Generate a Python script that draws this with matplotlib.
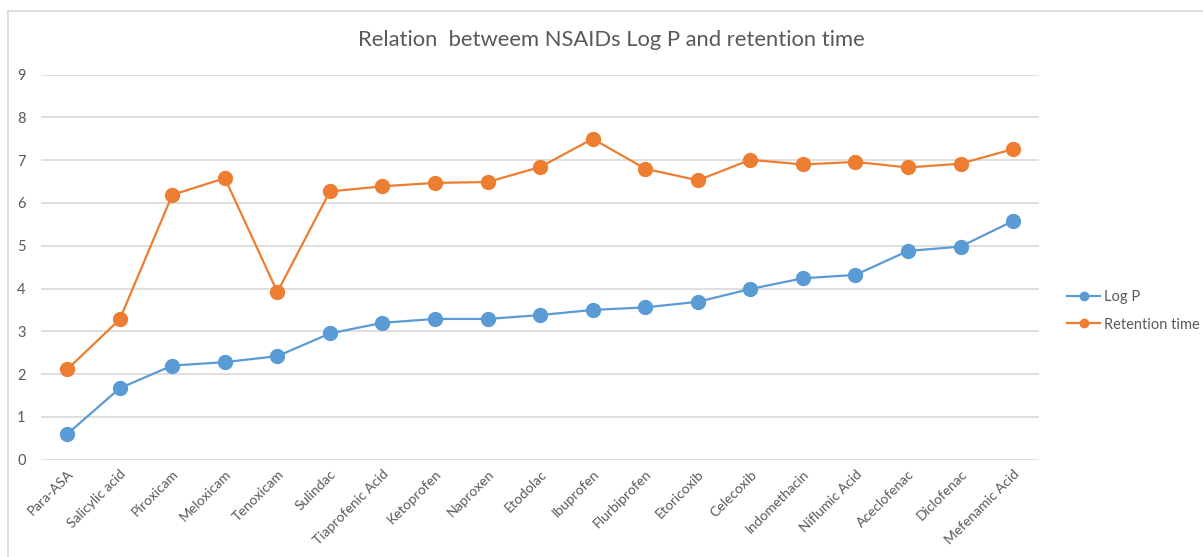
import matplotlib
matplotlib.use('Agg')
import matplotlib.pyplot as plt
from matplotlib.lines import Line2D

# datos
drugs = ['Para-ASA', 'Salicylic acid', 'Piroxicam', 'Meloxicam', 'Tenoxicam',
         'Sulindac', 'Tiaprofenic Acid', 'Ketoprofen', 'Naproxen', 'Etodolac',
         'Ibuprofen', 'Flurbiprofen', 'Etoricoxib', 'Celecoxib', 'Indomethacin',
         'Niflumic Acid', 'Aceclofenac', 'Diclofenac', 'Mefenamic Acid']
log_p = [0.60, 1.67, 2.20, 2.28, 2.42, 2.95, 3.20, 3.29, 3.29, 3.38,
         3.50, 3.56, 3.69, 3.99, 4.24, 4.32, 4.88, 4.98, 5.58]
retention = [2.11, 3.28, 6.19, 6.58, 3.92, 6.27, 6.39, 6.47, 6.49, 6.84,
             7.50, 6.80, 6.53, 7.01, 6.90, 6.96, 6.83, 6.92, 7.26]
yticks = list(range(0, 10))

plt.rcParams['font.family'] = ['Lato', 'DejaVu Sans']
gray = '#595959'
blue = '#5B9BD5'
orange = '#ED7D31'

fig = plt.figure(figsize=(12.03, 5.57), dpi=100)
ax = fig.add_axes([0.034, 0.1747, 0.830, 0.6913])

x = list(range(len(drugs)))
ax.plot(x, log_p, color=blue, lw=1.6, marker='o', ms=10, label='Log P')
ax.plot(x, retention, color=orange, lw=1.6, marker='o', ms=10, label='Retention time')

ax.set_xlim(-0.5, len(drugs) - 0.5)
ax.set_ylim(0, 9)
ax.set_yticks(yticks)
ax.set_xticks(x)
ax.set_xticklabels(drugs, rotation=45, ha='right', rotation_mode='anchor',
                   fontsize=10, color=gray)
ax.tick_params(axis='y', labelsize=10.5, colors=gray, length=0, pad=11)
ax.tick_params(axis='x', length=0, pad=6)
ax.grid(axis='y', color='#D9D9D9', lw=1.2)
ax.set_axisbelow(True)
for s in ax.spines.values():
    s.set_visible(False)

fig.text(0.508, 0.928, 'Relation  betweem NSAIDs Log P and retention time',
         ha='center', va='center', fontsize=15.8, color=gray)

leg = ax.legend(loc='center left', bbox_to_anchor=(1.015, 0.387), frameon=False,
                fontsize=10.5, labelcolor=gray, handlelength=2.2,
                handletextpad=0.3, labelspacing=0.95, markerscale=0.6)

# borde del area del grafico
fig.add_artist(Line2D([8 / 1203, 8 / 1203], [0, 1 - 11 / 557],
                      transform=fig.transFigure, color='#D9D9D9', lw=1.2))
fig.add_artist(Line2D([8 / 1203, 1], [1 - 11 / 557, 1 - 11 / 557],
                      transform=fig.transFigure, color='#D9D9D9', lw=1.2))

fig.savefig('out.png', dpi=100, facecolor='white')
plt.close(fig)
